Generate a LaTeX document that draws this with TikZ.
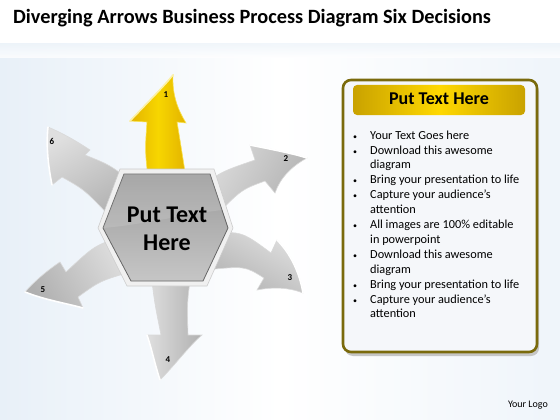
\documentclass[tikz,border=0pt]{standalone}
\usepackage{fontspec}
\setmainfont{Carlito}
\definecolor{boxolive}{HTML}{7A6A0C}
\definecolor{goldA}{HTML}{C9A200}
\definecolor{goldB}{HTML}{FFD800}
\definecolor{yelA}{HTML}{F7D600}
\definecolor{yelB}{HTML}{E3B300}
\definecolor{bgblue}{HTML}{E8F0F8}
\definecolor{boxfill}{HTML}{F5F7FA}
\begin{document}
\begin{tikzpicture}[x=1pt,y=-1pt,
  garrow/.style={draw=gray!30,line width=0.6pt,top color=gray!25,bottom color=gray!62},
  yarrow/.style={draw=yelA!70!white,line width=0.6pt,left color=yelB,right color=yelB,middle color=yelA},
  rim/.style={draw=white,line width=1.6pt,line cap=round},
  num/.style={font=\fontsize{9}{9}\selectfont\bfseries,inner sep=0pt},
  bul/.style={font=\fontsize{12.3}{14.9}\selectfont,inner sep=0pt,anchor=north west,align=left}]
\useasboundingbox (0,0) rectangle (560,420);
% background
\fill[white] (0,0) rectangle (560,420);
\shade[left color=bgblue,right color=bgblue!70,middle color=white] (0,44) rectangle (560,420);
\shade[top color=bgblue!70,bottom color=white,opacity=0.8] (0,44) rectangle (560,58);
% title
\node[anchor=west,inner sep=0pt,font=\fontsize{20.3}{20.3}\selectfont\bfseries] (title) at (13,18) {Diverging Arrows Business Process Diagram Six Decisions};

% arrow 2
\path[garrow,shading angle=60] (190,195) .. controls (220,172) .. (255,160) -- (250,145) .. controls (275,150) and (295,154) .. (307,158) .. controls (292,166) and (280,178) .. (275,193) -- (265,181) .. controls (240,190) .. (205,228) -- cycle;
\draw[rim] (250,145) .. controls (275,150) and (295,154) .. (307,158);
% arrow 3
\path[garrow,shading angle=-30] (200,236) .. controls (240,230) .. (271,253) -- (277,240) .. controls (292,255) and (300,275) .. (303,293) .. controls (288,287) and (272,287) .. (257,290) -- (264,278) .. controls (245,266) .. (205,270) -- cycle;
\draw[rim] (277,240) .. controls (292,255) and (300,275) .. (303,293);
% arrow 4
\path[garrow,shading angle=90] (150,262) .. controls (154,300) .. (161,335) -- (147,335) .. controls (152,350) and (155,365) .. (160,380) .. controls (175,365) and (190,345) .. (202,335) -- (188,335) .. controls (187,300) .. (193,262) -- cycle;
\draw[rim] (147,335) .. controls (152,350) and (155,365) .. (160,380);
% arrow 5
\path[garrow,shading angle=-60] (125,236) .. controls (95,245) .. (66,272) -- (60,262) .. controls (45,272) and (33,283) .. (25,292) .. controls (45,300) and (65,303) .. (83,308) -- (78,297) .. controls (100,281) .. (130,272) -- cycle;
\draw[rim] (25,292) .. controls (45,300) and (65,303) .. (83,308);
% arrow 6
\path[garrow,shading angle=30] (132,182) .. controls (110,165) .. (85,155) -- (90,150) .. controls (75,140) and (60,132) .. (48,127) .. controls (46,145) and (48,165) .. (52,185) -- (62,177) .. controls (85,190) .. (115,222) -- cycle;
\draw[rim] (48,127) .. controls (46,145) and (48,165) .. (52,185);
% arrow 1 (yellow)
\path[yarrow] (148,178) .. controls (145,150) .. (147,122) -- (130,121) .. controls (150,100) and (165,85) .. (173,75) .. controls (172,95) and (178,110) .. (186,123) -- (177,122) .. controls (180,140) .. (186,178) -- cycle;
\draw[draw=yelA!35!white,line width=1.6pt,line cap=round] (130,121) .. controls (150,100) and (165,85) .. (173,75);

% numbers
\node[num] (n1) at (166,95) {1};
\node[num] (n2) at (286,159) {2};
\node[num] (n3) at (290,278) {3};
\node[num] (n4) at (168,360) {4};
\node[num] (n5) at (43,290) {5};
\node[num] (n6) at (52,141) {6};

% hexagon
\filldraw[fill=gray!12,draw=gray!40,line width=0.6pt] (120,169) -- (214,169) -- (233,228) -- (207,286) -- (127,286) -- (98,228) -- cycle;
\shade[top color=gray!78,bottom color=gray!45,draw=gray!80!black,line width=0.8pt] (124,174) -- (210,174) -- (228,228) -- (203,281) -- (131,281) -- (103,228) -- cycle;
\fill[white,opacity=0.12] (103,228) -- (124,174) -- (210,174) -- (222,210) .. controls (180,215) and (140,225) .. (103,228) -- cycle;
\node[align=center,inner sep=0pt,font=\fontsize{24}{28}\selectfont\bfseries] (hex) at (167,229) {Put Text\\Here};

% text box
\fill[gray!45,rounded corners=8pt] (345,84) rectangle (539,356);
\filldraw[fill=boxfill,draw=boxolive,line width=2.6pt,rounded corners=8pt] (343,80) rectangle (537,352);
\shade[rounded corners=4pt,left color=goldA,right color=goldA,middle color=goldB] (353,85) rectangle (525,115);
\node[inner sep=0pt,font=\fontsize{18}{18}\selectfont\bfseries] (head) at (439,99) {Put Text Here};
\node[bul] (list) at (353,128.5) {%
\begin{tabular}{@{}p{13pt}@{\hspace{4pt}}l@{}}
{\fontsize{8}{8}\selectfont •} & Your Text Goes here\\
{\fontsize{8}{8}\selectfont •} & Download this awesome\\
 & diagram\\
{\fontsize{8}{8}\selectfont •} & Bring your presentation to life\\
{\fontsize{8}{8}\selectfont •} & Capture your audience’s\\
 & attention\\
{\fontsize{8}{8}\selectfont •} & All images are 100\% editable\\
 & in powerpoint\\
{\fontsize{8}{8}\selectfont •} & Download this awesome\\
 & diagram\\
{\fontsize{8}{8}\selectfont •} & Bring your presentation to life\\
{\fontsize{8}{8}\selectfont •} & Capture your audience’s\\
 & attention
\end{tabular}};
\node[anchor=east,inner sep=0pt,font=\fontsize{10}{10}\selectfont] (logo) at (548,405) {Your Logo};
\end{tikzpicture}
\end{document}
